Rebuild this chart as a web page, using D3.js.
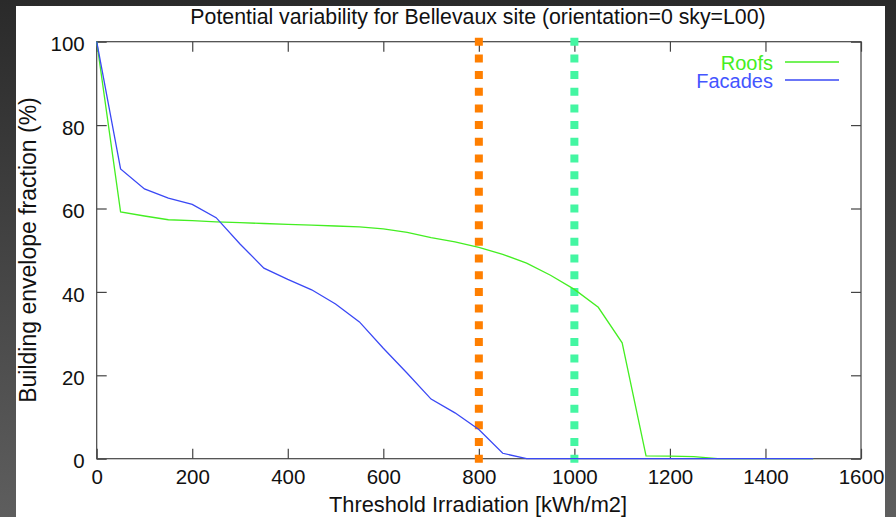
<!DOCTYPE html>
<html>
<head>
<meta charset="utf-8">
<script src="https://cdn.jsdelivr.net/npm/d3@7"></script>
<style>
  body {margin:0; background:#333;}
  svg text {font-family:"Liberation Sans", Arial, sans-serif; fill:#111;}
</style>
</head>
<body>
<svg width="896" height="517"></svg>
<script>
// data
var roofX = [0, 50, 100, 150, 200, 250, 300, 350, 400, 450, 500, 550, 600, 650, 700, 750, 800, 850, 900, 950, 1000, 1050, 1100, 1150, 1200, 1250, 1300, 1350, 1400, 1450, 1500];
var roofY = [100, 59.2, 58.2, 57.3, 57.1, 56.8, 56.6, 56.4, 56.2, 56.0, 55.8, 55.6, 55.1, 54.3, 53.0, 52.0, 50.7, 49.0, 46.9, 44.0, 40.6, 36.3, 27.8, 0.7, 0.6, 0.5, 0, 0, 0, 0, 0];
var facX = [0, 50, 100, 150, 200, 250, 300, 350, 400, 450, 500, 550, 600, 650, 700, 750, 800, 850, 900, 950, 1000, 1050, 1100, 1150, 1200, 1250, 1300, 1350, 1400, 1450, 1500];
var facY = [100, 69.5, 64.7, 62.5, 61.0, 57.8, 51.5, 45.7, 43.0, 40.5, 37.1, 32.8, 26.5, 20.5, 14.3, 11.0, 7.0, 1.3, 0, 0, 0, 0, 0, 0, 0, 0, 0, 0, 0, 0, 0];
var thresholds = [800, 1000];
var thresholdColors = ["#ff7f00", "#44f6a2"];
var xTicks = [0, 200, 400, 600, 800, 1000, 1200, 1400, 1600];
var yTicks = [0, 20, 40, 60, 80, 100];
var seriesNames = ["Roofs", "Facades"];
var seriesColors = ["#44ee22", "#3a48f5"];
var legendText = ["#44ee22", "#4455ff"];

var svg = d3.select("svg");

var bg = svg.append("defs").append("linearGradient")
    .attr("id", "bg").attr("x1", 0).attr("y1", 0).attr("x2", 0).attr("y2", 1);
bg.append("stop").attr("offset", "0%").attr("stop-color", "#2a2a2a");
bg.append("stop").attr("offset", "100%").attr("stop-color", "#5e5e5e");
svg.append("rect").attr("width", 896).attr("height", 517).attr("fill", "url(#bg)");
svg.append("rect").attr("x", 16).attr("y", 6).attr("width", 869).attr("height", 511).attr("fill", "#fff");

var m = {left: 96.7, top: 41.7, right: 861, bottom: 458.7};

var x = d3.scaleLinear().domain([0, 1600]).range([m.left, m.right]);
var y = d3.scaleLinear().domain([0, 100]).range([m.bottom, m.top]);

// border + inward ticks (mirrored)
function styleAxis(g) {
  g.select(".domain").remove();
  g.selectAll(".tick line").attr("stroke", "#444").attr("stroke-width", 1.2);
  g.selectAll("text").attr("fill", "#111").style("font-size", "20.5px");
}
svg.append("g").attr("transform", "translate(0," + m.bottom + ")")
  .call(d3.axisBottom(x).tickValues(xTicks).tickFormat(d3.format("d")).tickSizeInner(-10).tickSizeOuter(0).tickPadding(11))
  .call(styleAxis);
svg.append("g").attr("transform", "translate(0," + m.top + ")")
  .call(d3.axisTop(x).tickValues(xTicks).tickSizeInner(-10).tickSizeOuter(0).tickFormat(""))
  .call(styleAxis);
svg.append("g").attr("transform", "translate(" + m.left + ",0)")
  .call(d3.axisLeft(y).tickValues(yTicks).tickSizeInner(-10).tickSizeOuter(0).tickPadding(12))
  .call(styleAxis)
  .selectAll("text").attr("dy", "0.45em");
svg.append("g").attr("transform", "translate(" + m.right + ",0)")
  .call(d3.axisRight(y).tickValues(yTicks).tickSizeInner(-10).tickSizeOuter(0).tickFormat(""))
  .call(styleAxis);
svg.append("rect")
  .attr("x", m.left).attr("y", m.top)
  .attr("width", m.right - m.left).attr("height", m.bottom - m.top)
  .attr("fill", "none").attr("stroke", "#444").attr("stroke-width", 1.2);

// threshold dotted lines
var step = (m.bottom - m.top) / 25;
svg.selectAll(".thr").data(thresholds).enter().append("line")
  .attr("x1", function(d) { return x(d); }).attr("x2", function(d) { return x(d); })
  .attr("y1", m.top - 4).attr("y2", m.bottom + 4)
  .attr("stroke", function(d, i) { return thresholdColors[i]; })
  .attr("stroke-width", 8)
  .attr("stroke-dasharray", "8," + (step - 8));

var line = d3.line()
  .x(function(d) { return x(d[0]); })
  .y(function(d) { return y(d[1]); });

var series = [d3.zip(roofX, roofY), d3.zip(facX, facY)];
svg.selectAll(".series").data(series).enter().append("path")
  .attr("d", line)
  .attr("fill", "none")
  .attr("stroke", function(d, i) { return seriesColors[i]; })
  .attr("stroke-width", 1.3);

// legend
var leg = svg.selectAll(".leg").data(seriesNames).enter().append("g")
  .attr("transform", function(d, i) { return "translate(0," + (62 + i * 18) + ")"; });
leg.append("text").attr("x", 773).attr("y", 8).attr("text-anchor", "end")
  .style("font-size", "20px")
  .style("fill", function(d, i) { return legendText[i]; })
  .text(function(d) { return d; });
leg.append("line").attr("x1", 785).attr("x2", 839)
  .attr("stroke", function(d, i) { return seriesColors[i]; }).attr("stroke-width", 1.3);

// titles
svg.append("text").attr("x", 478).attr("y", 24).attr("text-anchor", "middle")
  .style("font-size", "21.3px").text("Potential variability for Bellevaux site (orientation=0 sky=L00)");
svg.append("text").attr("x", 478).attr("y", 512).attr("text-anchor", "middle")
  .style("font-size", "21.8px").text("Threshold Irradiation [kWh/m2]");
svg.append("text").attr("transform", "translate(36,250) rotate(-90)").attr("text-anchor", "middle")
  .style("font-size", "23px").text("Building envelope fraction (%)");
</script>
</body>
</html>
